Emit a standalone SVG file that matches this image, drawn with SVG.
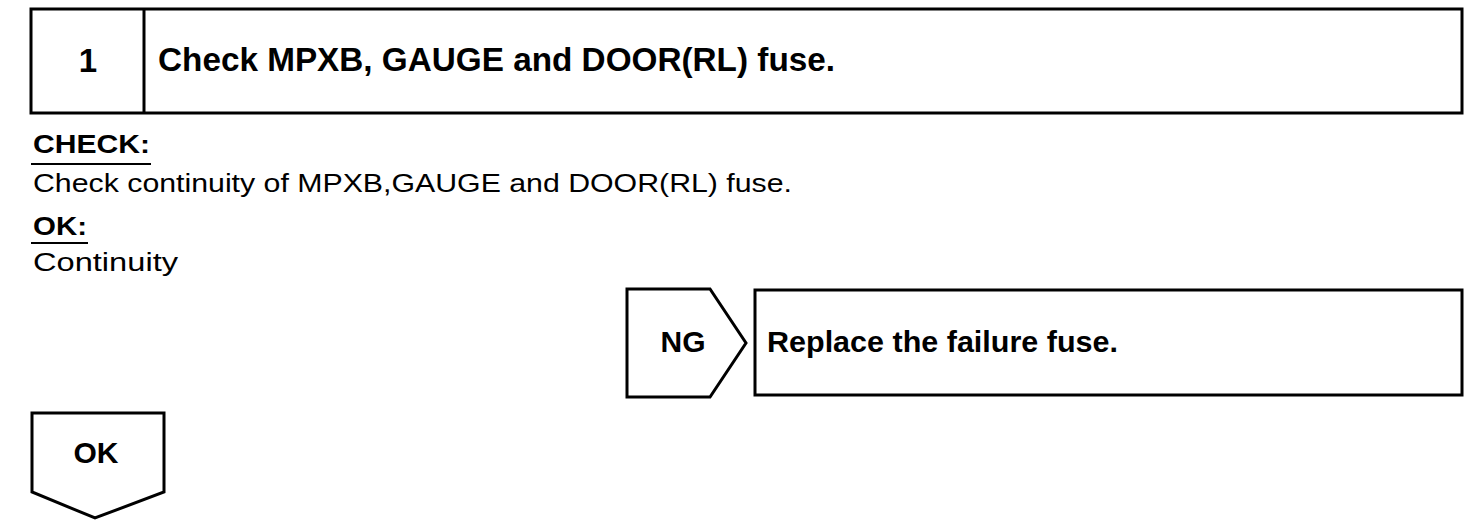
<svg xmlns="http://www.w3.org/2000/svg" width="1472" height="526" viewBox="0 0 1472 526">
<style>
.box{fill:#fff;stroke:#000;stroke-width:3;stroke-linejoin:miter}
.b{font-family:"Liberation Sans",Arial,sans-serif;font-weight:bold;fill:#000}
.r{font-family:"Liberation Sans",Arial,sans-serif;fill:#000}
.ul{stroke:#000;stroke-width:2}
</style>
<rect width="1472" height="526" fill="#fff"/>
<g id="step1">
<rect class="box" x="31" y="9" width="1431" height="104"/>
<line x1="144" y1="9" x2="144" y2="113" stroke="#000" stroke-width="3"/>
<text class="b" x="88" y="72" font-size="33" text-anchor="middle">1</text>
<text class="b" x="158" y="71" font-size="33" textLength="677" lengthAdjust="spacingAndGlyphs">Check MPXB, GAUGE and DOOR(RL) fuse.</text>
</g>
<g id="check">
<text class="b" x="33" y="153" font-size="26" textLength="117" lengthAdjust="spacingAndGlyphs">CHECK:</text>
<line class="ul" x1="31" y1="164" x2="151" y2="164"/>
<text class="r" x="33" y="192" font-size="26" textLength="759" lengthAdjust="spacingAndGlyphs">Check continuity of MPXB,GAUGE and DOOR(RL) fuse.</text>
<text class="b" x="33" y="235" font-size="26" textLength="54" lengthAdjust="spacingAndGlyphs">OK:</text>
<line class="ul" x1="31" y1="243" x2="88" y2="243"/>
<text class="r" x="33" y="271" font-size="26" textLength="145" lengthAdjust="spacingAndGlyphs">Continuity</text>
</g>
<g id="ng">
<polygon class="box" points="627,289 710,289 746,343 710,397 627,397"/>
<text class="b" x="683" y="352" font-size="30" text-anchor="middle">NG</text>
</g>
<g id="replace">
<rect class="box" x="755" y="290" width="707" height="105"/>
<text class="b" x="767" y="352" font-size="30" textLength="351" lengthAdjust="spacingAndGlyphs">Replace the failure fuse.</text>
</g>
<g id="ok">
<polygon class="box" points="32,413 164,413 164,492 95,518 32,492"/>
<text class="b" x="96" y="463" font-size="30" text-anchor="middle">OK</text>
</g>
<g id="connectors"></g>
</svg>
